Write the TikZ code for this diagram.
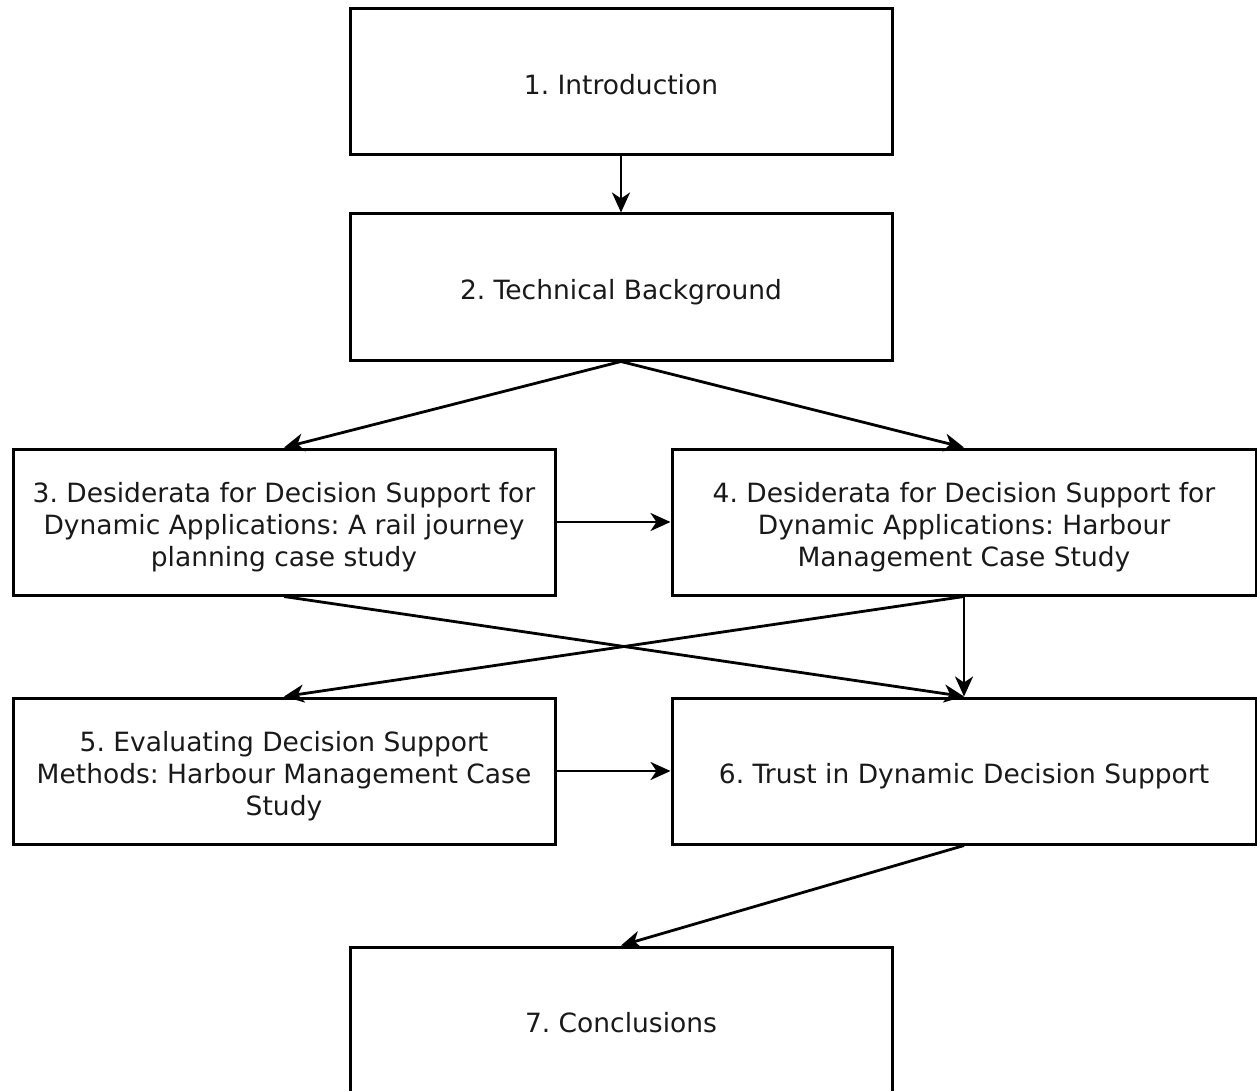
\documentclass[tikz,border=0pt]{standalone}
\usepackage{fontspec}
\setmainfont{DejaVu Sans}
\usetikzlibrary{arrows.meta}
% centred lines of a box, with extra room above so the text sits a little low
\newcommand\boxtext[1]{\raisebox{0pt}[\dimexpr\height+12pt\relax][\depth]{\begin{tabular}{@{}c@{}}#1\end{tabular}}}
\begin{document}
\frenchspacing
\begin{tikzpicture}[x=1pt,y=-1pt,
  box/.style={draw, line width=3pt, minimum height=146pt,
    font=\fontsize{26.5}{32}\selectfont, inner sep=0pt, text=black!90},
  narrow/.style={box, minimum width=542pt},
  wide/.style={box, minimum width=584pt},
  arr/.style={-{Stealth[length=20pt,width=18pt,inset=6pt]}, line width=2.8pt}]
\useasboundingbox (0,0) rectangle (1257,1091);
\node[narrow] (b1) at (621,82) {\boxtext{1. Introduction}};
\node[narrow] (b2) at (621,287) {\boxtext{2. Technical Background}};
\node[narrow] (b3) at (284,522) {\boxtext{3. Desiderata for Decision Support for\\Dynamic Applications: A rail journey\\planning case study}};
\node[wide] (b4) at (964,522) {\boxtext{4. Desiderata for Decision Support for\\Dynamic Applications: Harbour\\Management Case Study}};
\node[narrow] (b5) at (284,771) {\boxtext{5. Evaluating Decision Support\\Methods: Harbour Management Case\\Study}};
\node[wide] (b6) at (964,771) {\boxtext{6. Trust in Dynamic Decision Support}};
\node[narrow] (b7) at (621,1020) {\boxtext{7. Conclusions}};
\draw[arr] (b1.south) -- (b2.north);
\draw[arr] (b2.south) -- (b3.north);
\draw[arr] (b2.south) -- (b4.north);
\draw[arr] (b3.east) -- (b4.west);
\draw[arr] (b3.south) -- (b6.north);
\draw[arr] (b4.south) -- (b5.north);
\draw[arr] (b4.south) -- (b6.north);
\draw[arr] (b5.east) -- (b6.west);
\draw[arr] (b6.south) -- (b7.north);
\end{tikzpicture}
\end{document}
